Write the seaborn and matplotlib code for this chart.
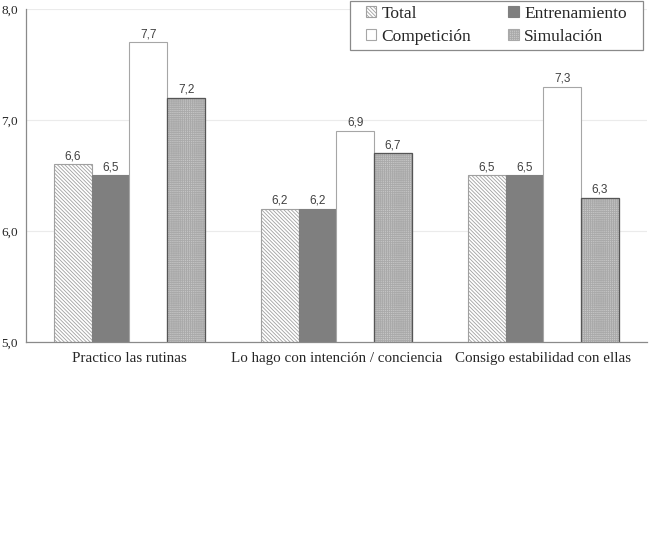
import pandas as pd
import matplotlib.pyplot as plt
import seaborn as sns
from matplotlib.patches import Rectangle
from matplotlib.ticker import FuncFormatter

# Data
categories = ["Practico las rutinas", "Lo hago con intención / conciencia", "Consigo estabilidad con ellas"]
series = ["Total", "Entrenamiento", "Competición", "Simulación"]
total = [6.6, 6.2, 6.5]
entrenamiento = [6.5, 6.2, 6.5]
competicion = [7.7, 6.9, 7.3]
simulacion = [7.2, 6.7, 6.3]

values = {"Total": total, "Entrenamiento": entrenamiento,
          "Competición": competicion, "Simulación": simulacion}
rows = []
for s in series:
    for c, v in zip(categories, values[s]):
        rows.append({"categoria": c, "serie": s, "valor": v})
df = pd.DataFrame(rows)

sns.set_style("white")
plt.rcParams['font.family'] = ['Liberation Serif', 'DejaVu Serif']
plt.rcParams['hatch.linewidth'] = 0.6

fig = plt.figure(figsize=(6.5, 5.4), dpi=100)
ax = fig.add_axes([0.04, 0.3667, 0.955, 0.6167])

sns.barplot(data=df, x="categoria", y="valor", hue="serie", hue_order=series,
            order=categories, errorbar=None, width=0.73, gap=0,
            palette=["white", "#7f7f7f", "white", "#c4c4c4"], ax=ax, legend=False)

# styles per series: face, edge (also hatch colour), hatch, outline drawn on top
styles = [
    ("white", "#a0a0a0", "\\" * 9, None),
    ("#7f7f7f", "#7f7f7f", None, None),
    ("white", "#a6a6a6", None, None),
    ("#c6c6c6", "#a9a9a9", "+" * 8, "#555555"),
]
for cont, (fc, ec, hatch, outline) in zip(ax.containers, styles):
    for p in cont:
        p.set_facecolor(fc)
        p.set_edgecolor(ec)
        p.set_linewidth(0.8)
        if hatch:
            p.set_hatch(hatch)
        if outline:
            ax.add_patch(Rectangle(p.get_xy(), p.get_width(), p.get_height(),
                                   fill=False, edgecolor=outline, linewidth=0.9, zorder=p.get_zorder() + 0.1))

for cont, s in zip(ax.containers, series):
    labels = [f"{v:.1f}".replace(".", ",") for v in values[s]]
    ax.bar_label(cont, labels=labels, padding=1.5, fontsize=8.5,
                 color="#404040", family=["Liberation Sans", "DejaVu Sans"])

ax.set_ylim(5, 8)
ax.set_yticks([5, 6, 7, 8])
ax.yaxis.set_major_formatter(FuncFormatter(lambda v, _: f"{v:.1f}".replace(".", ",")))
ax.set_xlim(-0.5, 2.5)
ax.grid(axis="y", color="#ebebeb", linewidth=0.8)
ax.set_axisbelow(True)
ax.set_xlabel("")
ax.set_ylabel("")
ax.tick_params(axis="y", length=0, pad=6, labelsize=9.5)
ax.tick_params(axis="x", length=0, pad=7, labelsize=10.8)
for side in ["top", "right"]:
    ax.spines[side].set_visible(False)
for side in ["left", "bottom"]:
    ax.spines[side].set_color("#8a8a8a")
    ax.spines[side].set_linewidth(0.9)

c = ax.containers
leg = fig.legend(handles=[c[0], c[2], c[1], c[3]],
                 labels=["Total", "Competición", "Entrenamiento", "Simulación"],
                 ncol=2, loc="upper right", bbox_to_anchor=(0.964, 0.989),
                 fontsize=12.5, frameon=False,
                 handlelength=0.6, handleheight=0.6, handletextpad=0.3,
                 columnspacing=2.15, borderpad=0.0, borderaxespad=0, labelspacing=0.4)

# frame around the legend, with more room at the sides like the reference
fig.canvas.draw()
bb = leg.get_window_extent().transformed(fig.transFigure.inverted())
padx, pady = 16 / 650, 5 / 540
fig.patches.append(Rectangle((bb.x0 - padx, bb.y0 - pady), bb.width + 2 * padx, bb.height + 2 * pady,
                             transform=fig.transFigure, facecolor="white", edgecolor="#8a8a8a",
                             linewidth=0.9, zorder=4))
leg.set_zorder(5)

plt.savefig("out.png", dpi=100)
plt.close()
